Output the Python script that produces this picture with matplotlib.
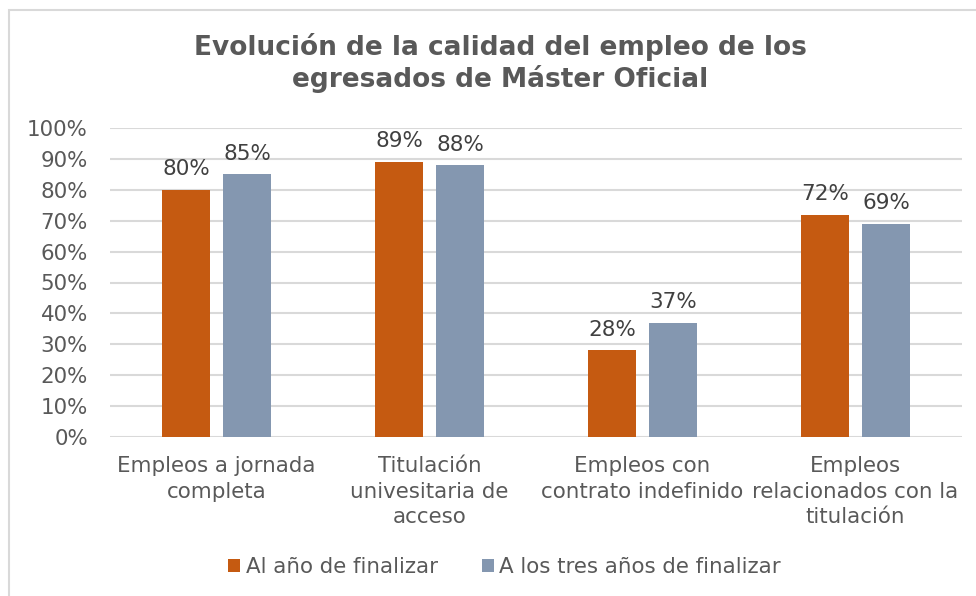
import matplotlib
matplotlib.use("Agg")
import matplotlib.pyplot as plt
import numpy as np
from matplotlib.patches import Rectangle

categories = ["Empleos a jornada\ncompleta", "Titulación\nunivesitaria de\nacceso",
              "Empleos con\ncontrato indefinido", "Empleos\nrelacionados con la\ntitulación"]
series_names = ["Al año de finalizar", "A los tres años de finalizar"]
al_ano = [80, 89, 28, 72]
tres_anos = [85, 88, 37, 69]
yticks = list(range(0, 101, 10))

orange = "#C55A11"
blue = "#8497B0"
txt = "#595959"

plt.rcParams['font.family'] = ['DejaVu Sans']

fig = plt.figure(figsize=(9.76, 5.96), dpi=100)
fig.patches.append(Rectangle((8.5/976, -0.1), 1.2, 1 - 9.5/596 + 0.1, transform=fig.transFigure,
                             fill=False, edgecolor="#D9D9D9", linewidth=1.5, zorder=0))
ax = fig.add_axes([110/976, 1 - 437/596, 852/976, (437 - 128)/596])

x = np.arange(len(categories))
w = 0.225
off = 0.143
b1 = ax.bar(x - off, al_ano, w, color=orange, label=series_names[0], zorder=3)
b2 = ax.bar(x + off, tres_anos, w, color=blue, label=series_names[1], zorder=3)

for bars, vals in ((b1, al_ano), (b2, tres_anos)):
    for r, v in zip(bars, vals):
        ax.text(r.get_x() + r.get_width() / 2, v + 3.4, f"{v}%", ha="center", va="bottom",
                fontsize=15.5, color="#404040")

ax.set_xlim(-0.5, 3.5)
ax.set_ylim(0, 100)
ax.set_yticks(yticks)
ax.set_yticklabels([f"{t}%" for t in yticks])
ax.set_xticks(x)
ax.set_xticklabels(categories, linespacing=1.32)
ax.tick_params(axis="both", length=0, labelsize=15.4, labelcolor=txt)
ax.tick_params(axis="y", pad=16)
ax.tick_params(axis="x", pad=14)
ax.grid(axis="y", color="#D9D9D9", linewidth=1.5, zorder=0)
for s in ax.spines.values():
    s.set_visible(False)

fig.text(500/976, 1 - 63/596, "Evolución de la calidad del empleo de los\negresados de Máster Oficial",
         ha="center", va="center", fontsize=19, fontweight="bold", color=txt, linespacing=1.2)

fig.legend(handles=[b1, b2], labels=series_names, loc="center", bbox_to_anchor=(504.5/976, 1 - 567/596),
           ncol=2, frameon=False, fontsize=15.4, labelcolor=txt, handlelength=0.58, handleheight=0.62,
           handletextpad=0.25, columnspacing=2.05)

fig.savefig("out.png", dpi=100, facecolor="white")
